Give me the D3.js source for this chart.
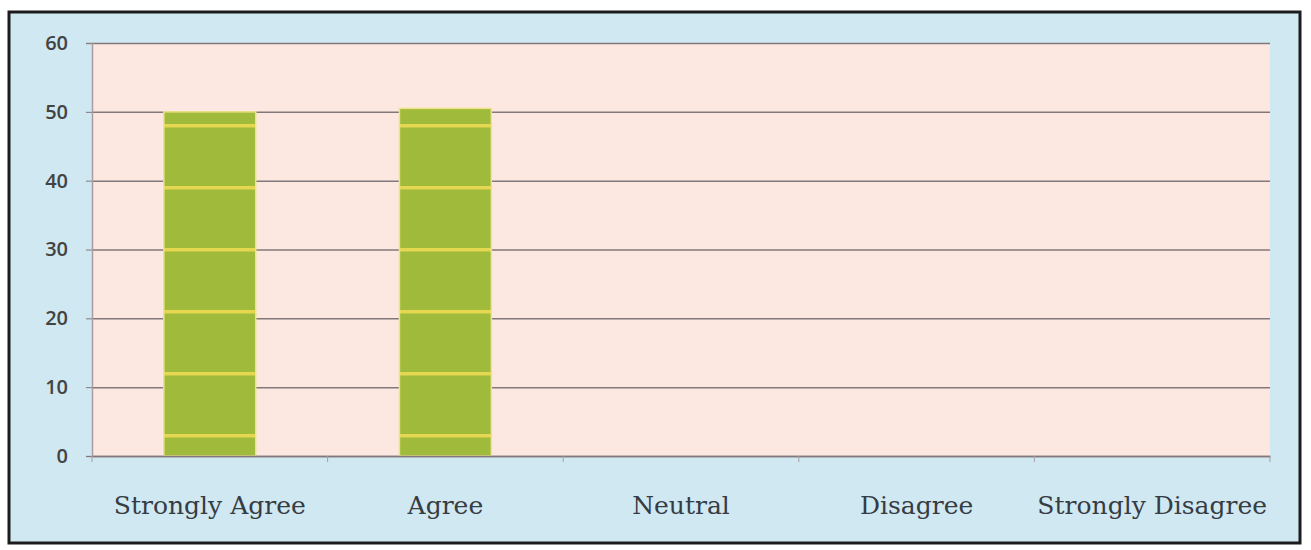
<!DOCTYPE html>
<html>
<head>
<meta charset="utf-8">
<script src="https://cdn.jsdelivr.net/npm/d3@7"></script>
<style>
  body { margin: 0; background: #fff; }
</style>
</head>
<body>
<svg class="chart"></svg>
<script>
const categories = ["Strongly Agree", "Agree", "Neutral", "Disagree", "Strongly Disagree"];
const values = [50, 50.5, 0, 0, 0];
const yTicks = [0, 10, 20, 30, 40, 50, 60];

const W = 1311, H = 550;
const margin = {top: 43, right: 41, bottom: 94, left: 92},
    width = W - margin.left - margin.right,
    height = H - margin.top - margin.bottom;

const root = d3.select(".chart")
    .attr("width", W)
    .attr("height", H);

// the yellow stripes across the bars (pattern is in the plot group's space)
const defs = root.append("defs");
const pat = defs.append("pattern")
    .attr("id", "stripes")
    .attr("patternUnits", "userSpaceOnUse")
    .attr("x", 0).attr("y", 124 - margin.top)
    .attr("width", 20).attr("height", 62);
pat.append("rect").attr("width", 20).attr("height", 62).attr("fill", "#a0ba3c");
pat.append("rect").attr("y", 0).attr("width", 20).attr("height", 3.5).attr("fill", "#e5d750");

// outer frame
root.append("rect")
    .attr("x", 9).attr("y", 12)
    .attr("width", 1291).attr("height", 531)
    .attr("fill", "#d0e8f1")
    .attr("stroke", "#1c1c1c")
    .attr("stroke-width", 3);

const svg = root.append("g")
    .attr("transform", `translate(${margin.left}, ${margin.top})`);

const x = d3.scaleBand()
    .range([0, width])
    .domain(categories)
    .paddingInner(0.61)
    .paddingOuter(0.305);

const y = d3.scaleLinear()
    .domain([0, 60])
    .range([height, 0]);

// plot area
svg.append("rect")
    .attr("width", width)
    .attr("height", height)
    .attr("fill", "#fde8e1");

// gridlines
svg.append("g")
    .call(d3.axisLeft(y).tickValues(yTicks).tickSize(-width).tickFormat(""))
    .call(g => g.select(".domain").remove())
    .call(g => g.selectAll("line").attr("stroke", "#82787b").attr("stroke-width", 1.5));

// bars
svg.selectAll(".bar")
    .data(values)
    .join("rect")
    .attr("class", "bar")
    .attr("x", (d, i) => x(categories[i]))
    .attr("y", d => y(d))
    .attr("width", x.bandwidth())
    .attr("height", d => height - y(d))
    .attr("fill", "url(#stripes)")
    .attr("stroke", "#ece487")
    .attr("stroke-width", d => d > 0 ? 1.5 : 0);

// y axis
svg.append("g")
    .call(d3.axisLeft(y).tickValues(yTicks).tickSize(6).tickPadding(18))
    .call(g => g.select(".domain").attr("stroke", "#a79ea1").attr("stroke-width", 1.5))
    .call(g => g.selectAll(".tick line").attr("stroke", "#82787b"))
    .call(g => g.selectAll("text")
        .attr("font-family", "'Open Sans', sans-serif")
        .attr("font-size", 20)
        .attr("font-weight", 600)
        .attr("fill", "#434343"));

// x axis
const xTickPos = d3.range(categories.length + 1).map(i => i * x.step());
svg.append("g")
    .attr("transform", `translate(0,${height})`)
    .call(d3.axisBottom(x).tickSize(0).tickPadding(40))
    .call(g => g.select(".domain").attr("stroke", "#82787b").attr("stroke-width", 1.5))
    .call(g => g.selectAll("text")
        .attr("font-family", "'DejaVu Serif', serif")
        .attr("font-size", 25)
        .attr("fill", "#363c44"));

svg.append("g")
    .attr("transform", `translate(0,${height})`)
    .selectAll("line")
    .data(xTickPos)
    .join("line")
    .attr("x1", d => d).attr("x2", d => d)
    .attr("y1", 0).attr("y2", 6)
    .attr("stroke", "#a79ea1");
</script>
</body>
</html>
